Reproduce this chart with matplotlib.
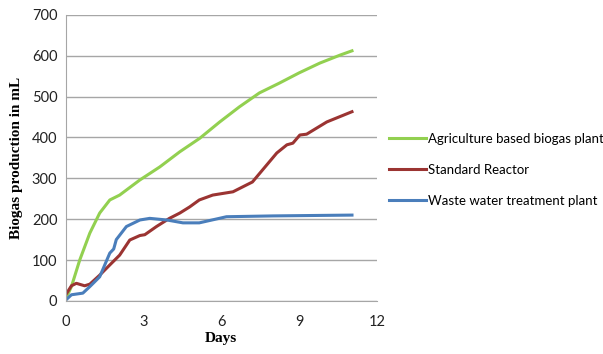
import numpy as np
import matplotlib.pyplot as plt

# values
days_green = [0, 0.22, 0.54, 0.93, 1.31, 1.7, 2.08, 2.86, 3.63, 4.4, 5.17,
              5.94, 6.7, 7.47, 8.24, 9.0, 9.8, 10.6, 11.04]
agri = [5, 35, 100, 166, 215, 247, 259, 296, 328, 365, 398,
        438, 475, 509, 533, 558, 582, 602, 612]

days_red = [0, 0.22, 0.41, 0.73, 0.93, 1.31, 1.7, 2.08, 2.47, 2.86, 3.05, 3.5,
            4.0, 4.4, 4.78, 5.15, 5.67, 6.45, 6.98, 7.2, 8.14, 8.53, 8.76,
            9.03, 9.29, 10.07, 11.04]
standard = [15, 37, 43, 37, 41, 63, 88, 112, 149, 160, 162, 182,
            202, 215, 230, 247, 259, 267, 284, 291, 362, 382, 386,
            406, 408, 438, 463]

days_blue = [0, 0.22, 0.66, 0.93, 1.31, 1.7, 1.85, 1.95, 2.34, 2.86, 3.24,
             3.9, 4.52, 5.15, 6.2, 8.0, 11.04]
waste = [2, 15, 19, 35, 59, 117, 127, 150, 182, 198, 202,
         198, 191, 191, 206, 208, 210]

fig = plt.figure(figsize=(6.03, 3.54), dpi=100)
ax = fig.add_axes([0.109, 0.150, 0.516, 0.808])

ax.plot(days_green, agri, color='#92D050', lw=2.2, label='Agriculture based biogas plant')
ax.plot(days_red, standard, color='#9B3432', lw=2.2, label='Standard Reactor')
ax.plot(days_blue, waste, color='#4A7EBB', lw=2.2, label='Waste water treatment plant')

ax.set_xlim(0, 12)
ax.set_ylim(0, 700)
ax.set_xticks([0, 3, 6, 9, 12])
ax.set_yticks(range(0, 701, 100))
ax.grid(axis='y', color='#A6A6A6', lw=1)
ax.set_axisbelow(True)
for s in ['top', 'right']:
    ax.spines[s].set_visible(False)
for s in ['left', 'bottom']:
    ax.spines[s].set_color('#A6A6A6')
ax.tick_params(length=0, labelsize=10.5, colors='#222222', pad=6)
for lab in ax.get_xticklabels() + ax.get_yticklabels():
    lab.set_family('Lato')
ax.tick_params(axis='x', pad=10)

ax.set_xlabel('Days', family='Liberation Serif', fontweight='bold', fontsize=11, labelpad=2)
ax.set_ylabel('Biogas production in mL', family='Liberation Serif', fontweight='bold',
              fontsize=11, labelpad=6)

ax.legend(loc='center left', bbox_to_anchor=(1.04, 0.458), frameon=False,
          prop={'family': 'Lato', 'size': 9.5}, handlelength=2.8,
          handletextpad=0.1, labelspacing=1.45, borderpad=0, borderaxespad=0)

fig.savefig('out.png', dpi=100)
